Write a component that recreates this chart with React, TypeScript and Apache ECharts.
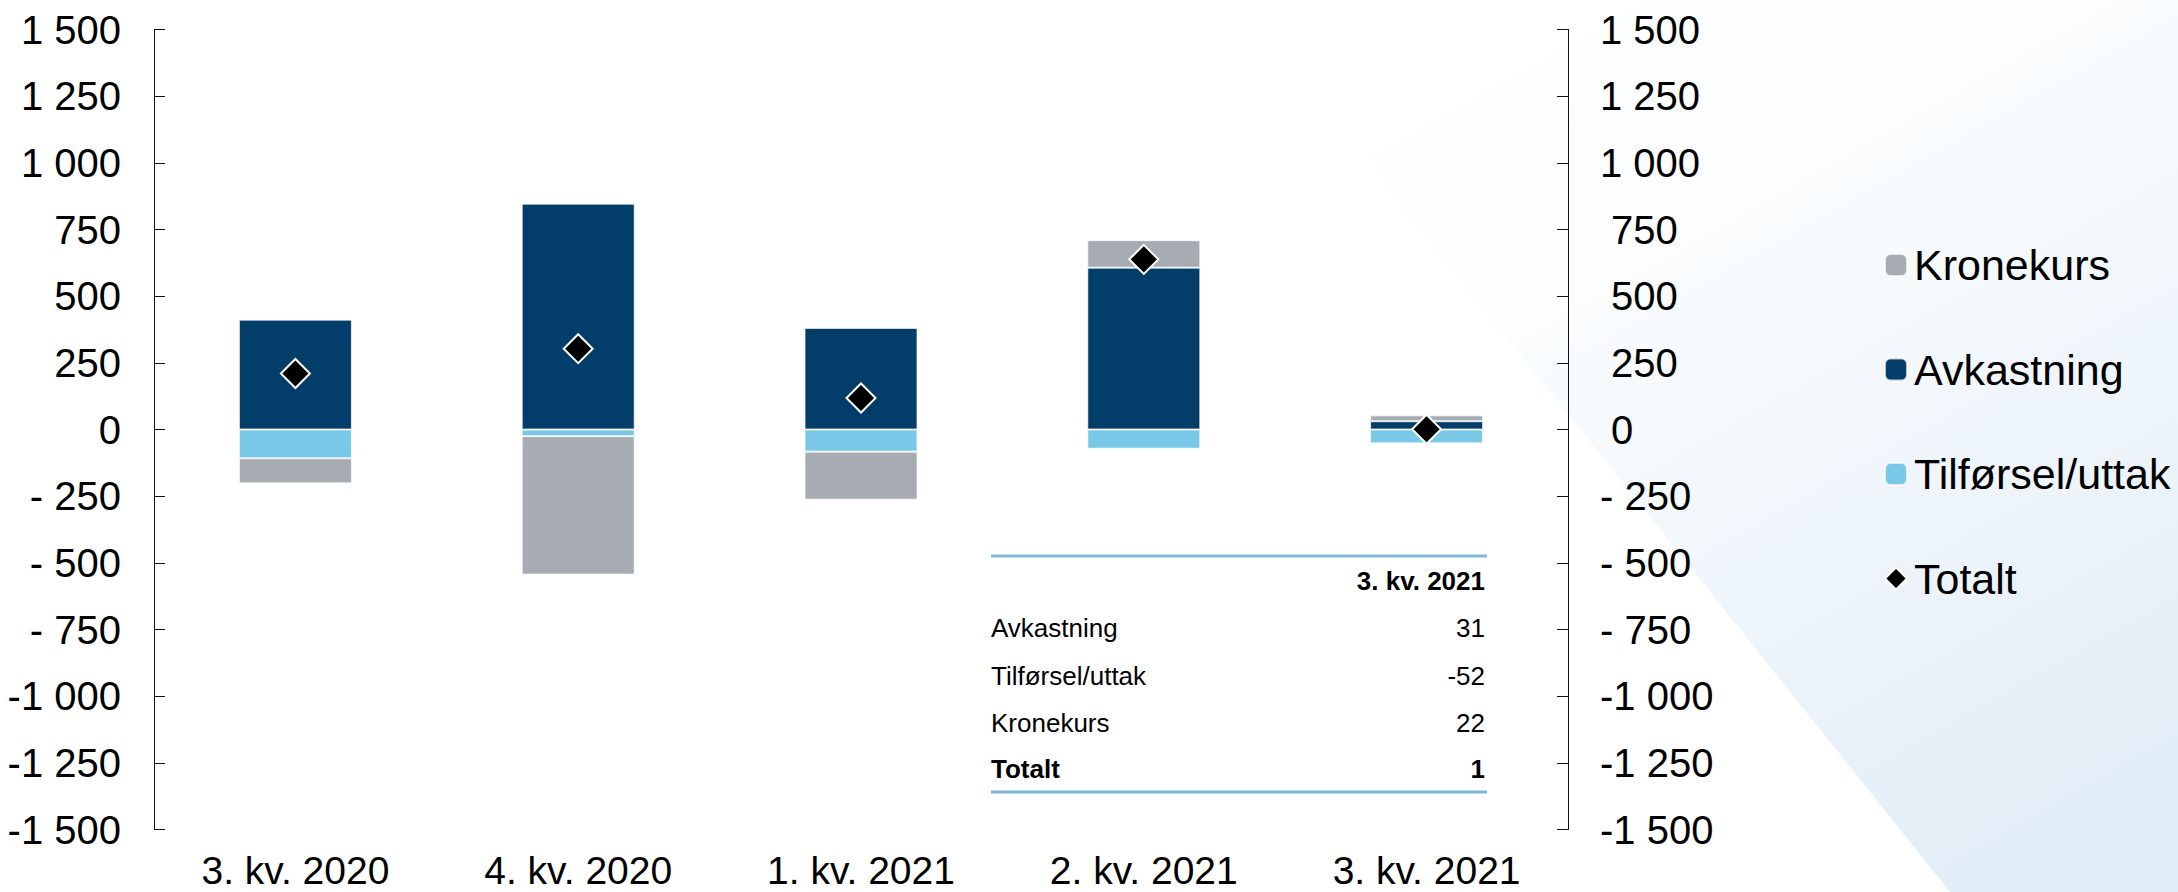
import React, { useEffect, useRef } from 'react';
import * as echarts from 'echarts';

const categories = ['3. kv. 2020', '4. kv. 2020', '1. kv. 2021', '2. kv. 2021', '3. kv. 2021'];
const avkastning = [412, 847, 381, 607, 31];
const tilforsel = [-108, -25, -83, -72, -52];
const kronekurs = [-94, -519, -180, 103, 22];
const totalt = [210, 303, 118, 638, 1];
const legendOrder = ['Kronekurs', 'Avkastning', 'Tilførsel/uttak', 'Totalt'];
const tableTitle = '3. kv. 2021';
const tableRows = ['Avkastning', 'Tilførsel/uttak', 'Kronekurs', 'Totalt'];

const FONT = '"Liberation Sans", Arial, sans-serif';

const fmt = (v: number) => {
  const a = Math.abs(v);
  if (a >= 1000) {
    return (v < 0 ? '-' : '') + Math.floor(a / 1000) + '\u00a0' + String(a % 1000).padStart(3, '0');
  }
  return (v < 0 ? '-\u00a0' : '\u00a0') + a;
};

export default function App() {
  const ref = useRef<HTMLDivElement>(null);
  useEffect(() => {
    document.body.style.margin = '0';
    const chart = echarts.init(ref.current!, null, { renderer: 'svg' });
    const last = categories.length - 1;
    const tableVals = [avkastning[last], tilforsel[last], kronekurs[last], totalt[last]];
    const rowY = [627.5, 675.5, 722.5, 768.5];
    const tableGraphics: any[] = [
      { type: 'line', shape: { x1: 991, y1: 556, x2: 1487, y2: 556 }, style: { stroke: '#7bb9d5', lineWidth: 3 } },
      { type: 'line', shape: { x1: 991, y1: 792, x2: 1487, y2: 792 }, style: { stroke: '#7bb9d5', lineWidth: 3 } },
      {
        type: 'text', x: 1485, y: 581,
        style: { text: tableTitle, font: `bold 26px ${FONT}`, fill: '#000', align: 'right', verticalAlign: 'middle' },
      },
    ];
    tableRows.forEach((r, i) => {
      const bold = i === tableRows.length - 1 ? 'bold ' : '';
      tableGraphics.push({
        type: 'text', x: 991, y: rowY[i],
        style: { text: r, font: `${bold}26px ${FONT}`, fill: '#000', align: 'left', verticalAlign: 'middle' },
      });
      tableGraphics.push({
        type: 'text', x: 1485, y: rowY[i],
        style: { text: String(tableVals[i]), font: `${bold}26px ${FONT}`, fill: '#000', align: 'right', verticalAlign: 'middle' },
      });
    });

    const axisCommon = {
      type: 'value',
      min: -1500,
      max: 1500,
      interval: 250,
      splitLine: { show: false },
      axisLine: { show: true, lineStyle: { color: '#111', width: 1 } },
      axisTick: { show: true, inside: true, length: 11, lineStyle: { color: '#111', width: 1 } },
    };

    chart.setOption({
      animation: false,
      backgroundColor: '#ffffff',
      textStyle: { fontFamily: FONT },
      grid: { left: 154, right: 610, top: 29.5, bottom: 62.5, containLabel: false },
      graphic: [
        {
          type: 'polygon',
          z: -10,
          silent: true,
          shape: { points: [[1237, 0], [2178, 0], [2178, 892], [1950, 892]] },
          style: {
            fill: new echarts.graphic.LinearGradient(0.2, 0, 0.8, 1, [
              { offset: 0, color: '#ffffff' },
              { offset: 0.3, color: '#fbfdfe' },
              { offset: 1, color: '#e1edf7' },
            ]),
          },
        },
        ...tableGraphics,
      ],
      legend: {
        orient: 'vertical',
        left: 1879,
        top: 236.5,
        itemWidth: 22,
        itemHeight: 22,
        itemGap: 57.5,
        data: legendOrder,
        textStyle: { fontSize: 43, color: '#000', fontFamily: FONT, lineHeight: 47, padding: [0, 0, 0, 2] },
      },
      xAxis: {
        type: 'category',
        data: categories,
        axisLine: { show: false },
        axisTick: { show: false },
        axisLabel: { fontSize: 39, color: '#000', margin: 21, fontFamily: FONT },
      },
      yAxis: [
        {
          ...axisCommon,
          position: 'left',
          axisLabel: { fontSize: 40, color: '#000', margin: 33, formatter: fmt, fontFamily: FONT },
        },
        {
          ...axisCommon,
          position: 'right',
          axisLabel: { fontSize: 40, color: '#000', margin: 32, align: 'left', formatter: fmt, fontFamily: FONT },
        },
      ],
      series: [
        {
          name: 'Avkastning', type: 'bar', stack: 'a', barWidth: 113, data: avkastning,
          itemStyle: { color: '#033d6a', borderColor: 'rgba(255,255,255,0.7)', borderWidth: 1 },
        },
        {
          name: 'Tilførsel/uttak', type: 'bar', stack: 'a', barWidth: 113, data: tilforsel,
          itemStyle: { color: '#7ac8e7', borderColor: 'rgba(255,255,255,0.7)', borderWidth: 1 },
        },
        {
          name: 'Kronekurs', type: 'bar', stack: 'a', barWidth: 113, data: kronekurs,
          itemStyle: { color: '#a6acb2', borderColor: 'rgba(255,255,255,0.7)', borderWidth: 1 },
        },
        {
          name: 'Totalt', type: 'scatter', data: totalt, symbol: 'diamond', symbolSize: 29, z: 10,
          itemStyle: { color: '#000', borderColor: '#fff', borderWidth: 2, opacity: 1 },
        },
      ],
    });
    return () => chart.dispose();
  }, []);
  return <div ref={ref} style={{ width: 2178, height: 892 }} />;
}
